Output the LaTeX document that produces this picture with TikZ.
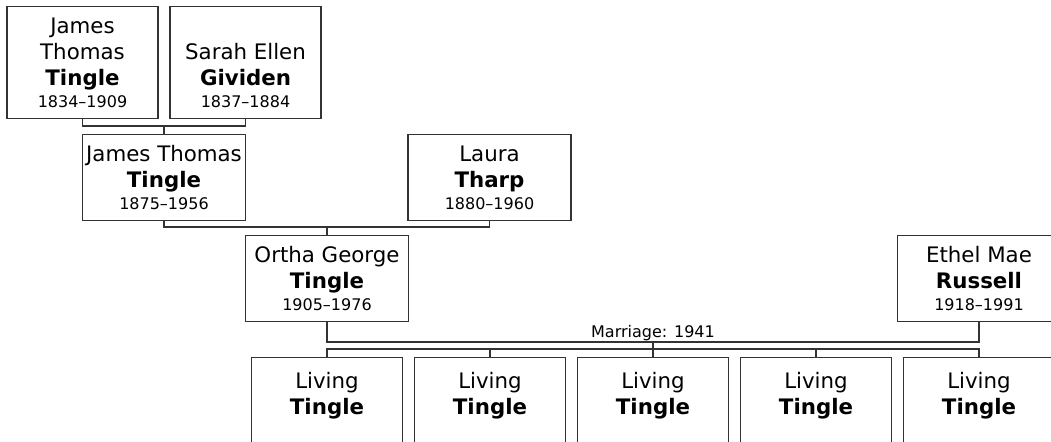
\documentclass[tikz,border=0pt]{standalone}
\usepackage{fontspec}
\setmainfont{DejaVu Sans}
\usetikzlibrary{positioning}

% years line under a name, set smaller
\newcommand{\yrs}[1]{\\[-3.2pt]{\fontsize{12}{14}\selectfont #1}}
% box body: width, height, inner position (t or b), text
\newcommand{\card}[4]{\parbox[c][#2][#3]{#1}{\centering #4}}

\tikzset{
  person/.style={draw=black!80, line width=0.8pt, inner xsep=0pt, inner ysep=7.9pt, anchor=north},
  link/.style={draw=black!80, line width=0.8pt},
}

\begin{document}
\begin{tikzpicture}[x=0.75pt, y=-0.75pt, font=\fontsize{16}{19.7}\selectfont]
        \useasboundingbox (0,0) rectangle (1051,442);

        % Grandparents.
        \node[person] (jtA) at (82.5,6) {\card{113.25pt}{68.2pt}{b}{James\\Thomas\\\textbf{Tingle}\yrs{1834--1909}}};
        \node[person] (seG) at (245.5,6) {\card{113.25pt}{68.2pt}{b}{Sarah Ellen\\\textbf{Gividen}\yrs{1837--1884}}};

        % Parents.
        \node[person] (jtB) at (164,134) {\card{122.25pt}{48.3pt}{b}{James Thomas\\\textbf{Tingle}\yrs{1875--1956}}};
        \node[person] (ltT) at (489.5,134) {\card{122.25pt}{48.3pt}{b}{Laura\\\textbf{Tharp}\yrs{1880--1960}}};

        % Couple.
        \node[person] (ogT) at (327,235) {\card{122.25pt}{48.3pt}{b}{Ortha George\\\textbf{Tingle}\yrs{1905--1976}}};
        \node[person] (emR) at (979,235) {\card{122.25pt}{48.3pt}{b}{Ethel Mae\\\textbf{Russell}\yrs{1918--1991}}};

        % Children.
        \foreach \i in {1,...,5}
          \node[person] (kid\i) at ({327+163*(\i-1)},357) {\card{113.25pt}{70pt}{t}{\vspace*{3pt}Living\\\textbf{Tingle}}};

        % Lines between generations.
        \coordinate (gen1) at (164,126);
        \draw[link] (jtA.south) |- (gen1) -| (seG.south);
        \draw[link] (gen1) -- (jtB.north);
        \coordinate (gen2) at (327,227);
        \draw[link] (jtB.south) |- (gen2) -| (ltT.south);
        \draw[link] (gen2) -- (ogT.north);

        % Marriage and children.
        \coordinate (wed) at (653,342);
        \draw[link] (ogT.south) |- (wed) -| (emR.south);
        \node[above=0.6pt, inner sep=0pt, font=\fontsize{12}{14}\selectfont] (wedlbl) at (wed) {Marriage: 1941};
        \coordinate (kids) at (653,349);
        \draw[link] (wed) -- (kids);
        \draw[link] (kid1.north) |- (kids) -| (kid5.north);
        \foreach \i in {2,3,4}
          \draw[link] (kid\i.north) -- (kid\i.north |- kids);
    \end{tikzpicture}
\end{document}
